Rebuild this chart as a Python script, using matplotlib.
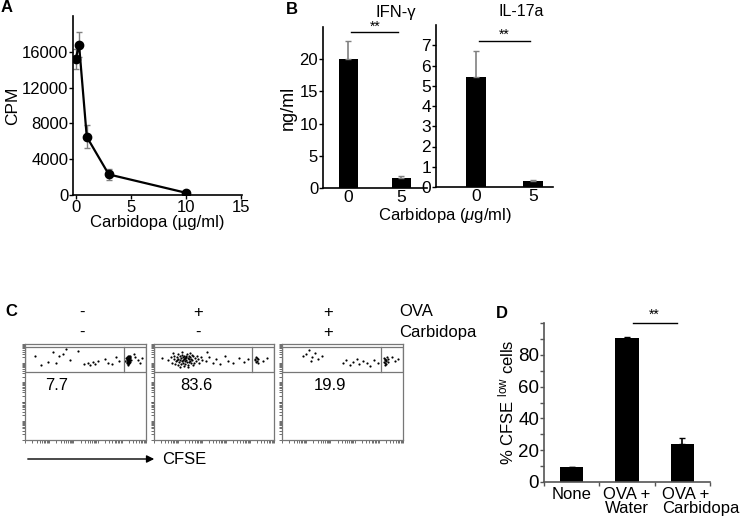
import matplotlib
matplotlib.use("Agg")
from matplotlib import pyplot as plt
from matplotlib.patches import Rectangle

plt.rcParams['font.family'] = ['Liberation Sans', 'DejaVu Sans']
plt.rcParams['mathtext.fontset'] = 'custom'
plt.rcParams['mathtext.rm'] = 'Liberation Sans'
plt.rcParams['mathtext.it'] = 'Liberation Sans:italic'

# Panel A: proliferation vs carbidopa dose
dose = [0, 0.3, 1, 3, 10]
cpm = [15200, 16800, 6500, 2300, 250]
cpm_err = [1100, 1400, 1300, 600, 100]

# Panel B: cytokines
b_doses = ["0", "5"]
ifn = [20.1, 1.5]
ifn_err = [2.7, 0.3]
il17 = [5.45, 0.3]
il17_err = [1.25, 0.03]

# Panel C: flow plots (x in log-decade units, y as fraction of plot height)
c_ova = ["-", "+", "+"]
c_carb = ["-", "-", "+"]
c_pct = ["7.7", "83.6", "19.9"]
flow_none = [
    (0.40, 0.88), (0.65, 0.78), (0.95, 0.81), (1.15, 0.92), (1.30, 0.80), (1.40, 0.87), (1.55, 0.90),
    (1.70, 0.95), (1.85, 0.83), (2.20, 0.93), (2.45, 0.79), (2.60, 0.80), (2.70, 0.78), (2.80, 0.81),
    (2.90, 0.79), (3.00, 0.82), (3.30, 0.84), (3.45, 0.80), (3.60, 0.79), (3.75, 0.86), (3.90, 0.82),
    (4.15, 0.82), (4.18, 0.85), (4.20, 0.80), (4.22, 0.83), (4.24, 0.87), (4.25, 0.81), (4.26, 0.84),
    (4.27, 0.78), (4.28, 0.86), (4.29, 0.82), (4.30, 0.84), (4.31, 0.80), (4.32, 0.88), (4.33, 0.83),
    (4.35, 0.81), (4.22, 0.86), (4.26, 0.79), (4.28, 0.83), (4.30, 0.87), (4.24, 0.84), (4.27, 0.85),
    (4.31, 0.82), (4.34, 0.85), (4.38, 0.83), (4.20, 0.84), (4.25, 0.83), (4.29, 0.80), (4.33, 0.86),
    (4.27, 0.82), (4.23, 0.81), (4.50, 0.90), (4.55, 0.86), (4.65, 0.83), (4.75, 0.80), (4.85, 0.85),
]
flow_ova = [
    (0.60, 0.83), (0.70, 0.86), (0.75, 0.80), (0.82, 0.84), (0.85, 0.88), (0.88, 0.79), (0.92, 0.82),
    (0.95, 0.86), (0.98, 0.90), (1.00, 0.78), (1.02, 0.84), (1.05, 0.81), (1.07, 0.87), (1.10, 0.83),
    (1.12, 0.79), (1.14, 0.85), (1.16, 0.89), (1.18, 0.82), (1.20, 0.86), (1.22, 0.80), (1.24, 0.84),
    (1.26, 0.88), (1.28, 0.82), (1.30, 0.85), (1.31, 0.79), (1.33, 0.87), (1.35, 0.83), (1.37, 0.90),
    (1.39, 0.81), (1.41, 0.85), (1.43, 0.78), (1.45, 0.84), (1.47, 0.88), (1.49, 0.82), (1.51, 0.86),
    (1.53, 0.80), (1.55, 0.84), (1.57, 0.89), (1.60, 0.83), (1.63, 0.87), (1.66, 0.80), (1.70, 0.85),
    (1.74, 0.82), (1.78, 0.88), (1.83, 0.84), (1.88, 0.80), (1.95, 0.86), (2.02, 0.83), (1.15, 0.92),
    (1.40, 0.76), (0.78, 0.91), (1.25, 0.77), (1.50, 0.91), (1.08, 0.76), (1.62, 0.78), (0.95, 0.83),
    (1.20, 0.83), (1.35, 0.86), (1.45, 0.81), (1.28, 0.85),
    (2.15, 0.82), (2.30, 0.86), (2.45, 0.80), (2.60, 0.84), (2.75, 0.79), (2.95, 0.87), (3.10, 0.82),
    (3.30, 0.80), (3.55, 0.85), (3.75, 0.81), (3.90, 0.84), (0.35, 0.85), (2.20, 0.92),
    (4.22, 0.83), (4.25, 0.81), (4.28, 0.85), (4.30, 0.82), (4.26, 0.86), (4.33, 0.80), (4.20, 0.84),
    (4.35, 0.84), (4.55, 0.82), (4.70, 0.85),
]
flow_carb = [
    (1.00, 0.90), (1.10, 0.94), (1.25, 0.86), (1.35, 0.91), (1.50, 0.84), (1.65, 0.88), (1.20, 0.82),
    (0.85, 0.87), (2.50, 0.80), (2.65, 0.83), (2.80, 0.78), (2.95, 0.81), (3.10, 0.84), (3.20, 0.79),
    (3.35, 0.82), (3.50, 0.80), (3.65, 0.77), (3.80, 0.83), (3.95, 0.80),
    (4.20, 0.81), (4.24, 0.84), (4.27, 0.80), (4.30, 0.83), (4.33, 0.86), (4.25, 0.78), (4.29, 0.82),
    (4.22, 0.85), (4.36, 0.81), (4.31, 0.79), (4.27, 0.83), (4.40, 0.84), (4.55, 0.86), (4.65, 0.82),
    (4.80, 0.84),
]

# Panel D: % CFSE low
d_groups = ["None", "OVA +\nWater", "OVA +\nCarbidopa"]
d_vals = [9.2, 90.8, 23.7]
d_err = [0.5, 0.5, 3.8]

W, H = 746, 517
fig = plt.figure(figsize=(W / 100, H / 100), dpi=100)


def box(l, t, r, b):
    return [l / W, 1 - b / H, (r - l) / W, (b - t) / H]


def fy(y):
    return 1 - y / H


def clean(ax):
    ax.spines['top'].set_visible(False)
    ax.spines['right'].set_visible(False)
    for s in ('left', 'bottom'):
        ax.spines[s].set_linewidth(1.2)


# ---- A ----
ax = fig.add_axes(box(73, 16, 242, 195))
clean(ax)
ax.errorbar(dose, cpm, yerr=cpm_err, fmt='none', ecolor='#808080', elinewidth=1, capsize=2)
ax.plot(dose, cpm, '-o', color='black', lw=1.6, ms=6)
ax.set_xlim(-0.25, 15.1)
ax.set_ylim(0, 20000)
ax.set_xticks([0, 5, 10, 15])
ax.set_yticks([0, 4000, 8000, 12000, 16000])
ax.tick_params(labelsize=12, length=3, width=1, pad=0.5)
ax.set_ylabel("CPM", fontsize=12.5, labelpad=1)
ax.set_xlabel("Carbidopa (µg/ml)", fontsize=12, labelpad=0)
fig.text(1 / W, fy(8), "A", fontsize=12, fontweight='bold', va='center')

# ---- B ----
def cyto(rect, vals, errs, ylim, yticks, xlim, fs, sig_y, star_y):
    ax = fig.add_axes(rect)
    clean(ax)
    xs = range(len(vals))
    ax.bar(xs, vals, width=0.36, color='black')
    ax.errorbar(xs, vals, yerr=[[0] * len(vals), errs], fmt='none', ecolor='#808080',
                elinewidth=1.2, capsize=2)
    ax.set_xlim(*xlim)
    ax.set_ylim(*ylim)
    ax.set_xticks(list(xs))
    ax.set_xticklabels(b_doses)
    ax.set_yticks(yticks)
    ax.tick_params(axis='x', length=0, labelsize=12.5, pad=1.5)
    ax.tick_params(axis='y', length=3, width=1, labelsize=fs, pad=0.5)
    ax.plot([0.05, 0.95], [sig_y, sig_y], color='black', lw=1, clip_on=False)
    ax.text(0.5, star_y, "**", ha='center', va='bottom', fontsize=10)
    return ax


ax1 = cyto(box(323, 27, 427, 188), ifn, ifn_err, (0, 25), [0, 5, 10, 15, 20],
           (-0.48, 1.49), 12, 24.2, 24.0)
ax1.set_ylabel("ng/ml", fontsize=13, labelpad=2)
ax2 = cyto(box(436, 25, 553, 187), il17, il17_err, (0, 8), list(range(8)),
           (-0.70, 1.35), 12.5, 7.2, 7.15)
fig.text(396 / W, fy(12), "IFN-γ", fontsize=12, ha='center', va='center')
fig.text(521 / W, fy(12), "IL-17a", fontsize=11.5, ha='center', va='center')
fig.text(445 / W, fy(215), "Carbidopa ($\\mu$g/ml)", fontsize=12, ha='center', va='center')
fig.text(286 / W, fy(10), "B", fontsize=12, fontweight='bold', va='center')

# ---- C ----
fig.text(5 / W, fy(312), "C", fontsize=12, fontweight='bold', va='center')
hdr_x = [82, 198, 328]
for i in range(3):
    fig.text(hdr_x[i] / W, fy(312), c_ova[i], fontsize=12, ha='center', va='center')
    fig.text(hdr_x[i] / W, fy(332), c_carb[i], fontsize=12, ha='center', va='center')
fig.text(399 / W, fy(312), "OVA", fontsize=12, va='center')
fig.text(399 / W, fy(332), "Carbidopa", fontsize=12, va='center')

log_ticks = [d + k for d in range(5) for k in (0, 0.301, 0.477, 0.602, 0.699, 0.778, 0.845, 0.903, 0.954)] + [5]
flow_left = [25, 154, 282]
flow_right = [146, 274, 403]
pct_x = [57, 196, 330]
for i, pts in enumerate([flow_none, flow_ova, flow_carb]):
    ax = fig.add_axes(box(flow_left[i], 344, flow_right[i], 440))
    for s in ax.spines.values():
        s.set_color('#777777')
        s.set_linewidth(0.9)
    px, py = zip(*pts)
    ax.scatter(px, py, s=2.5, color='black', linewidths=0)
    ax.add_patch(Rectangle((0, 0.71), 5, 0.26, fill=False, ec='#777777', lw=0.9))
    ax.plot([4.08, 4.08], [0.71, 0.97], color='#777777', lw=0.9)
    ax.set_xlim(0, 5)
    ax.set_ylim(0, 1)
    ax.set_xticks(log_ticks)
    ax.set_yticks([t / 5 for t in log_ticks])
    ax.tick_params(length=2.5, width=0.6, color='#555555', labelbottom=False, labelleft=False)
    fig.text(pct_x[i] / W, fy(385), c_pct[i], fontsize=12, ha='center', va='center')

ax_arr = fig.add_axes([0, 0, 1, 1], facecolor='none')
ax_arr.axis('off')
ax_arr.annotate('', xy=(157 / W, fy(459)), xytext=(25 / W, fy(459)),
                xycoords='axes fraction',
                arrowprops=dict(arrowstyle='-|>', color='black', lw=1, mutation_scale=11))
fig.text(162 / W, fy(459), "CFSE", fontsize=12, va='center')

# ---- D ----
ax = fig.add_axes(box(544, 323, 710, 482))
clean(ax)
for s in ('left', 'bottom'):
    ax.spines[s].set_color('#555555')
xs = range(len(d_vals))
ax.bar(xs, d_vals, width=0.42, color='black')
ax.errorbar(xs, d_vals, yerr=[[0] * 3, d_err], fmt='none', ecolor='black', elinewidth=1.2, capsize=2.5)
ax.set_xlim(-0.5, 2.5)
ax.set_ylim(0, 100)
ax.set_xticks([-0.5, 0.5, 1.5, 2.5])
ax.set_xticklabels([])
ax.set_yticks(range(0, 101, 10))
ax.set_yticklabels([str(v) if v % 20 == 0 and v < 100 else "" for v in range(0, 101, 10)])
ax.tick_params(axis='both', length=3, width=1, color='#555555', labelsize=13.5, pad=0.5)
label_x = [0, 1, 1.63]
label_ha = ['center', 'center', 'left']
for i, g in enumerate(d_groups):
    ax.text(label_x[i], -0.03, g, transform=ax.get_xaxis_transform(), ha=label_ha[i], va='top',
            fontsize=12, linespacing=0.95)
ax.plot([1.1, 1.9], [100, 100], color='black', lw=1, clip_on=False)
ax.text(1.5, 101, "**", ha='center', va='bottom', fontsize=10)
ax.set_ylabel("% CFSE $^{\\mathrm{low}}$ cells", fontsize=12, labelpad=1)
fig.text(496 / W, fy(313), "D", fontsize=12, fontweight='bold', va='center')

fig.savefig("out.png", dpi=100)
